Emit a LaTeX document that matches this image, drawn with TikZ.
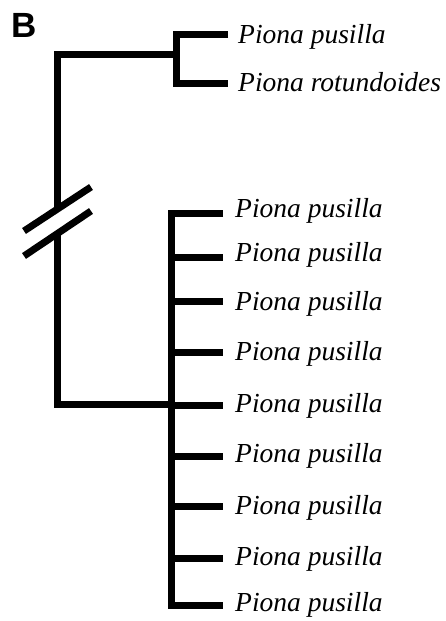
\documentclass[tikz,border=0pt]{standalone}
\usepackage{fontspec}
\setmainfont{Liberation Serif}
\newfontfamily\labelsans{Liberation Sans}
\begin{document}
\begin{tikzpicture}[x=1pt,y=-1pt,
  branch/.style={line width=7pt,line join=miter,line cap=butt},
  taxon/.style={font=\fontsize{27.5}{30}\selectfont\itshape,inner sep=0pt,anchor=base west},
  panel/.style={font=\labelsans\bfseries\fontsize{35}{38}\selectfont,inner sep=0pt,anchor=base west}]
\useasboundingbox (0,0) rectangle (446,621);
% panel label
\node[panel] (B) at (11,37) {B};
% tree points
\coordinate (root) at (57,54);
\coordinate (up) at (176,54);
\coordinate (lo) at (171,404);
\coordinate (rootlo) at (57,404);
\coordinate (brkA) at (57,209);
\coordinate (brkB) at (57,234);
\coordinate (u1) at (176,34);
\coordinate (u2) at (176,83);
\coordinate (u1e) at (228,34);
\coordinate (u2e) at (228,83);
\foreach \i/\y in {1/213,2/257,3/301,4/352,5/405,6/456,7/506,8/558,9/605}{
  \coordinate (l\i) at (171,\y);
  \coordinate (l\i e) at (223,\y);
}
% break marks
\coordinate (s1a) at (24,231); \coordinate (s1b) at (91,187);
\coordinate (s2a) at (24,256); \coordinate (s2b) at (91,211);
\draw[branch] (s1a) -- (s1b);
\draw[branch] (s2a) -- (s2b);
% backbone
\draw[branch] (brkA) -- (root) -- (up);
\draw[branch] (brkB) -- (rootlo) -- (lo);
% upper clade
\draw[branch] (u1e) -- (u1) -- (u2) -- (u2e);
% lower clade
\draw[branch] (l1e) -- (l1) -- (l9) -- (l9e);
\foreach \i in {2,...,8}{\draw[branch] (l\i) -- (l\i e);}
% labels
\node[taxon] (t1) at (238,43) {Piona pusilla};
\node[taxon] (t2) at (238,91) {Piona rotundoides};
\foreach \i/\y in {1/217,2/261,3/310,4/360,5/412,6/462,7/514,8/565,9/611}{
  \node[taxon] (p\i) at (235,\y) {Piona pusilla};
}
\end{tikzpicture}
\end{document}
